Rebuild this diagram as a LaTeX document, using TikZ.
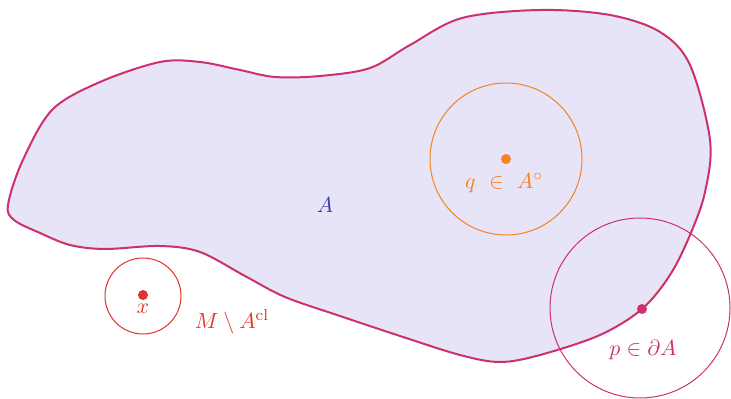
\documentclass[tikz,border=0pt]{standalone}
\usepackage{amssymb}
\definecolor{blobfill}{RGB}{230,228,246}
\definecolor{blobline}{RGB}{204,48,110}
\definecolor{intcol}{RGB}{245,130,35}
\definecolor{extcol}{RGB}{226,52,42}
\definecolor{bdcol}{RGB}{204,50,100}
\definecolor{acol}{RGB}{60,62,170}
\begin{document}
\begin{tikzpicture}[x=0.5pt,y=-0.5pt,
  lbl/.style={font=\fontsize{11}{13}\selectfont, inner sep=1pt},
  dotmark/.style={circle, fill, inner sep=0pt, minimum size=5pt},
  nbhd/.style={circle, draw, line width=0.5pt, inner sep=0pt}]
\useasboundingbox (0,0) rectangle (731,399);
\coordinate (pp) at (642,309);
\draw[blobline, fill=blobfill, line width=1pt] plot[smooth cycle, tension=0.55] coordinates {
 (8,205) (22,162) (52,110) (100,82) (160,62) (200,62) (240,70) (275,77) (320,76) (370,68)
 (410,45) (462,18) (540,10) (610,15) (660,32) (690,65) (710,140) (705,192) (690,235)
 (670,275) (642,309) (600,335) (540,355) (500,362) (460,355) (400,336) (340,316)
 (285,297) (245,276) (200,252) (160,246) (105,249) (70,245) (40,233) (14,220)};
\node[nbhd, intcol, minimum size=152*0.5pt] (qn) at (506,159) {};
\node[nbhd, extcol, minimum size=76*0.5pt] (xn) at (143,296) {};
\node[nbhd, bdcol, minimum size=180*0.5pt] (pn) at (640,308) {};
\node[dotmark, intcol] (q) at (506,159) {};
\node[dotmark, extcol] (x) at (143,295) {};
\node[dotmark, blobline] (p) at (pp) {};
\node[lbl, intcol] (ql) at (504,183) {$q\ \in\ A^{\circ}$};
\node[lbl, extcol] (xl) at (143,309) {$x$};
\node[lbl, extcol] (ml) at (232,322) {$M\setminus A^{\mathrm{cl}}$};
\node[lbl, bdcol] (pl) at (643,350) {$p\in\partial A$};
\node[lbl, acol] (al) at (325,205) {$A$};
\end{tikzpicture}
\end{document}
